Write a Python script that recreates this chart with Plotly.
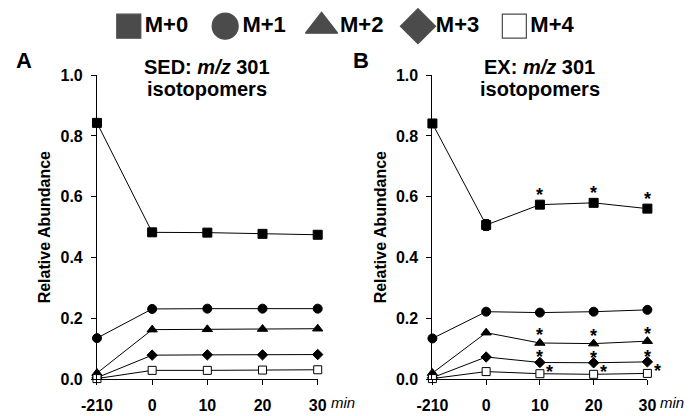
import plotly.graph_objects as go

# ---------------- data ----------------
times = ["-210", "0", "10", "20", "30"]
series = ["M+0", "M+1", "M+2", "M+3", "M+4"]

sed_m0 = [0.843, 0.483, 0.482, 0.478, 0.475]
sed_m1 = [0.135, 0.231, 0.232, 0.232, 0.232]
sed_m2 = [0.020, 0.163, 0.164, 0.165, 0.166]
sed_m3 = [0.005, 0.079, 0.080, 0.080, 0.081]
sed_m4 = [0.002, 0.029, 0.029, 0.030, 0.031]
sed_err_m0 = [0.004, 0.005, 0.006, 0.009, 0.011]
sed_err_m1 = [0.003, 0.003, 0.003, 0.003, 0.003]
sed_err_m2 = [0.002, 0.003, 0.003, 0.003, 0.003]
sed_err_m3 = [0.001, 0.002, 0.002, 0.002, 0.002]
sed_err_m4 = [0.001, 0.001, 0.001, 0.001, 0.001]

ex_m0 = [0.841, 0.507, 0.574, 0.580, 0.561]
ex_m1 = [0.134, 0.222, 0.219, 0.222, 0.228]
ex_m2 = [0.020, 0.153, 0.119, 0.117, 0.125]
ex_m3 = [0.005, 0.073, 0.055, 0.054, 0.057]
ex_m4 = [0.002, 0.025, 0.018, 0.016, 0.019]
ex_err_m0 = [0.004, 0.018, 0.006, 0.008, 0.010]
ex_err_m1 = [0.003, 0.003, 0.003, 0.003, 0.004]
ex_err_m2 = [0.002, 0.004, 0.003, 0.003, 0.003]
ex_err_m3 = [0.001, 0.002, 0.002, 0.002, 0.002]
ex_err_m4 = [0.001, 0.002, 0.001, 0.001, 0.001]

# significance flags (EX vs baseline)
ex_sig_m0 = [0, 0, 1, 1, 1]
ex_sig_m2 = [0, 0, 1, 1, 1]
ex_sig_m3 = [0, 0, 1, 1, 1]
ex_sig_m4 = [0, 0, 1, 1, 1]

y_ticks = [0.0, 0.2, 0.4, 0.6, 0.8, 1.0]

# ---------------- styles ----------------
FONT = "Arial, Liberation Sans, sans-serif"
symbols = ["square", "circle", "triangle-up", "diamond", "square"]
fills = ["black", "black", "black", "black", "white"]
sizes = [9, 9, 9, 8, 8]
legend_sizes = [24, 26, 28, 27, 24]

W, H = 693, 416
def px_x(p):
    return p / W
def px_y(p):
    return 1 - p / H

dom_y = [px_y(387), px_y(70)]
dom_xa = [px_x(84), px_x(313)]
dom_xb = [px_x(432), px_x(655)]

fig = go.Figure()

sed = [sed_m0, sed_m1, sed_m2, sed_m3, sed_m4]
sed_err = [sed_err_m0, sed_err_m1, sed_err_m2, sed_err_m3, sed_err_m4]
ex = [ex_m0, ex_m1, ex_m2, ex_m3, ex_m4]
ex_err = [ex_err_m0, ex_err_m1, ex_err_m2, ex_err_m3, ex_err_m4]

for panel, (vals, errs, xa, ya) in enumerate([(sed, sed_err, "x", "y"), (ex, ex_err, "x2", "y2")]):
    for i, name in enumerate(series):
        fig.add_trace(go.Scatter(
            x=times, y=vals[i], name=name, xaxis=xa, yaxis=ya,
            mode="lines+markers", showlegend=False, cliponaxis=False,
            line=dict(color="black", width=1),
            marker=dict(symbol=symbols[i], size=sizes[i], color=fills[i],
                        line=dict(color="black", width=1)),
            error_y=dict(type="data", array=errs[i], visible=True,
                         color="black", thickness=1, width=3),
        ))

# legend row drawn as a small hidden axis
fig.add_trace(go.Scatter(
    x=series, y=[0] * len(series), xaxis="x3", yaxis="y3",
    mode="markers+text", text=series, textposition="middle right",
    textfont=dict(family=FONT, size=22, color="black", weight="bold"),
    marker=dict(symbol=symbols, size=legend_sizes, color=fills,
                line=dict(color="black", width=1.2)),
    showlegend=False, cliponaxis=False, hoverinfo="skip",
))

axis_common = dict(
    showline=True, linecolor="black", linewidth=1, mirror=False,
    ticks="outside", ticklen=5, tickcolor="black", tickwidth=1,
    showgrid=False, zeroline=False,
    tickfont=dict(family=FONT, size=16, color="black", weight="bold"),
)

xcommon = dict(axis_common, type="category", categoryorder="array",
               categoryarray=times, range=[0, len(times) - 1], ticklabelstandoff=7)
ycommon = dict(axis_common, range=[0, 1], tickvals=y_ticks, tickformat=".1f",
               ticklabelstandoff=5,
               title=dict(text="Relative Abundance", standoff=5,
                          font=dict(family=FONT, size=16, color="black", weight="bold")))

fig.update_layout(
    width=W, height=H, autosize=False,
    margin=dict(l=0, r=0, t=0, b=0),
    paper_bgcolor="white", plot_bgcolor="white",
    font=dict(family=FONT, color="black"),
    xaxis=dict(xcommon, domain=dom_xa, anchor="y"),
    yaxis=dict(ycommon, domain=dom_y, anchor="x"),
    xaxis2=dict(xcommon, domain=dom_xb, anchor="y2"),
    yaxis2=dict(ycommon, domain=dom_y, anchor="x2"),
    xaxis3=dict(domain=[px_x(117), px_x(517)], range=[0, 4], type="category",
                categoryorder="array", categoryarray=series, visible=False, anchor="y3"),
    yaxis3=dict(domain=[px_y(38), px_y(0)], range=[-1, 1], visible=False, anchor="x3"),
)

annotations = []
title_font = dict(family=FONT, size=20, color="black", weight="bold")
# panel titles (two lines each)
for dom, l1 in [(dom_xa, "SED: <i>m/z</i> 301"), (dom_xb, "EX: <i>m/z</i> 301")]:
    for ypx, txt in [(62, l1), (84, "isotopomers")]:
        annotations.append(dict(
            xref="paper", yref="paper", x=(dom[0] + dom[1]) / 2, y=px_y(ypx),
            xanchor="center", yanchor="middle", showarrow=False, text=txt,
            font=title_font,
        ))
# panel letters
for xpx, lab in [(8, "A"), (358, "B")]:
    annotations.append(dict(
        xref="paper", yref="paper", x=px_x(xpx), y=px_y(55),
        xanchor="center", yanchor="middle", showarrow=False, text=lab,
        font=dict(family=FONT, size=22, color="black", weight="bold"),
    ))
# "min" unit labels (category axes take the category index)
last = len(times) - 1
for xr, yr in [("x", "y"), ("x2", "y2")]:
    annotations.append(dict(
        xref=xr, yref=yr, x=last, y=0, xanchor="left", yanchor="middle",
        xshift=11, yshift=-23, showarrow=False, text="<i>min</i>",
        font=dict(family=FONT, size=15, color="black"),
    ))
# significance asterisks on EX panel
star_font = dict(family=FONT, size=18, color="black", weight="bold")
for vals, sig, dx, dy in [(ex_m0, ex_sig_m0, 0, 10), (ex_m2, ex_sig_m2, 0, 7.5),
                          (ex_m3, ex_sig_m3, 0, 5), (ex_m4, ex_sig_m4, 10, 2)]:
    for idx, (v, s) in enumerate(zip(vals, sig)):
        if s:
            annotations.append(dict(
                xref="x2", yref="y2", x=idx, y=v, xanchor="center", yanchor="middle",
                xshift=dx, yshift=dy, showarrow=False, text="*", font=star_font,
            ))
fig.update_layout(annotations=annotations)

fig.write_html("out.html", config={"displayModeBar": False},
               post_script="document.body.style.margin='0';")
